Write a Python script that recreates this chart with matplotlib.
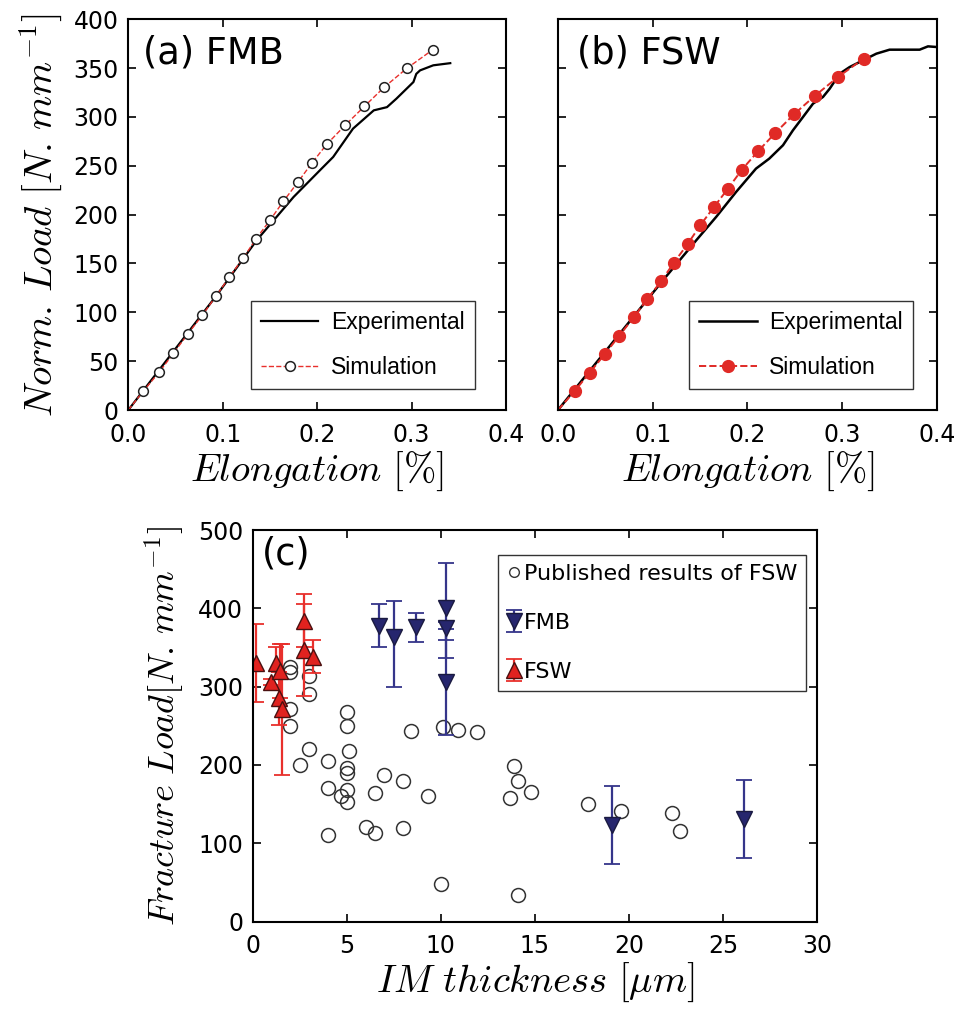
import numpy as np
import matplotlib
matplotlib.use("Agg")
import matplotlib.pyplot as plt
from matplotlib.lines import Line2D

plt.rcParams['mathtext.fontset'] = 'cm'
plt.rcParams['font.family'] = ['DejaVu Sans']

# (a) FMB
a_exp_x = [0.0, 0.0937, 0.136, 0.175, 0.203, 0.217, 0.238, 0.260, 0.274, 0.284, 0.302, 0.305, 0.309, 0.323, 0.341]
a_exp_y = [0.0, 117.6, 173.8, 218.0, 245.4, 259.0, 288.0, 306.7, 310.0, 318.7, 335.7, 344.0, 347.6, 352.8, 355.0]
a_sim_x = [0.0, 0.0159, 0.0325, 0.0477, 0.0629, 0.0784, 0.0929, 0.1071, 0.1219, 0.1353, 0.1501,
           0.1643, 0.1795, 0.1943, 0.2102, 0.2296, 0.2501, 0.2709, 0.2950, 0.3225]
a_sim_y = [0.0, 19.4, 38.5, 57.9, 77.7, 97.1, 116.6, 136.3, 155.8, 175.2, 194.3,
           213.7, 233.1, 252.6, 272.0, 291.4, 310.8, 330.3, 349.7, 368.8]

# (b) FSW
b_exp_x = [0.0, 0.1109, 0.146, 0.167, 0.188, 0.209, 0.223, 0.2375, 0.248, 0.2586, 0.2692, 0.2797,
           0.2868, 0.2973, 0.3078, 0.3219, 0.336, 0.350, 0.3817, 0.3905, 0.400]
b_exp_y = [0.0, 132.9, 173.8, 197.7, 223.2, 247.1, 257.3, 271.0, 286.3, 299.9, 313.6, 320.4,
           328.9, 344.2, 351.0, 357.9, 364.7, 368.8, 368.8, 372.2, 371.5]
b_sim_x = [0.0, 0.0176, 0.0335, 0.0493, 0.0644, 0.0799, 0.0940, 0.1091, 0.1225, 0.1372, 0.1503,
           0.1647, 0.1795, 0.1942, 0.2111, 0.2294, 0.2491, 0.2709, 0.2955, 0.3226]
b_sim_y = [0.0, 19.4, 38.3, 57.0, 75.7, 94.8, 113.2, 132.2, 151.0, 170.4, 189.2,
           207.9, 226.7, 246.1, 264.8, 283.6, 302.7, 321.4, 340.8, 359.6]

# (c) fracture load vs IM thickness
pub_x = [2.0, 2.0, 3.0, 3.0, 2.0, 2.0, 5.0, 5.0, 3.0, 2.5, 4.0, 5.1, 5.0, 5.0, 4.0, 5.0, 4.7, 5.0,
         7.0, 8.0, 6.5, 9.3, 4.0, 6.0, 6.5, 8.0, 8.4, 10.1, 10.9, 11.9, 10.0, 13.9, 14.1, 13.7,
         14.8, 14.1, 17.8, 19.6, 22.3, 22.7]
pub_y = [325, 319, 313, 291, 271, 250, 268, 250, 220, 200, 205, 218, 196, 190, 170, 168, 160, 153,
         187, 180, 164, 160, 110, 121, 113, 120, 243, 249, 245, 242, 48, 198, 180, 158,
         166, 34, 150, 141, 138, 116]

fmb_x = [6.7, 7.5, 8.7, 10.3, 10.3, 10.3, 19.1, 26.1]
fmb_y = [378, 363, 376, 400, 375, 306, 123, 131]
fmb_lo = [27, 63, 19, 63, 15, 68, 50, 50]
fmb_hi = [27, 47, 18, 58, 8, 68, 50, 50]

fsw_x = [0.15, 0.95, 1.25, 1.45, 1.4, 1.57, 2.7, 2.7, 3.2]
fsw_y = [330, 306, 330, 320, 285, 271, 384, 347, 338]
fsw_err = [50, 4, 20, 35, 34, 84, 34, 59, 21]

fig = plt.figure(figsize=(9.61, 10.10), dpi=100)
ax1 = fig.add_axes([0.1335, 0.594, 0.393, 0.387])
ax2 = fig.add_axes([0.5806, 0.594, 0.3944, 0.387])
ax3 = fig.add_axes([0.263, 0.0876, 0.5872, 0.3876])

tick_kw = dict(direction='in', top=True, right=True, length=6, width=1.2, labelsize=17, pad=7)
leg_font = {'family': 'Liberation Sans', 'size': 16.5}

ax1.plot(a_exp_x, a_exp_y, color='black', lw=1.6, label='Experimental')
ax1.plot(a_sim_x, a_sim_y, color='#e8302c', ls='--', lw=1.0, marker='o', ms=7,
         mfc='white', mec='#222222', mew=1.1, markevery=list(range(1, len(a_sim_x))), label='Simulation')
ax1.text(0.04, 0.96, '(a) FMB', transform=ax1.transAxes, fontsize=26.5, va='top', ha='left')
ax1.set_xlim(0, 0.4)
ax1.set_ylim(0, 400)
ax1.set_xticks([0.0, 0.1, 0.2, 0.3, 0.4])
ax1.set_yticks(range(0, 401, 50))
ax1.tick_params(**tick_kw)
ax1.tick_params(axis='x', pad=9)
ax1.set_xlabel(r'$Elongation\ [\%]$', fontsize=28, labelpad=2)
ax1.set_ylabel(r'$Norm.\,Load\ [N.\,mm^{-1}]$', fontsize=28, labelpad=6)
leg = ax1.legend(loc='lower right', bbox_to_anchor=(0.918, 0.053), borderaxespad=0,
                 prop=leg_font, handlelength=2.5, handletextpad=0.55, labelspacing=0.95,
                 fancybox=False, edgecolor='black', borderpad=0.45)
leg.get_frame().set_linewidth(1.0)

ax2.plot(b_exp_x, b_exp_y, color='black', lw=1.8, label='Experimental')
ax2.plot(b_sim_x, b_sim_y, color='#e02a26', ls='--', lw=1.4, marker='o', ms=8.5,
         mfc='#e02a26', mec='#e02a26', markevery=list(range(1, len(b_sim_x))), label='Simulation')
ax2.text(0.05, 0.96, '(b) FSW', transform=ax2.transAxes, fontsize=26.5, va='top', ha='left')
ax2.set_xlim(0, 0.4)
ax2.set_ylim(0, 400)
ax2.set_xticks([0.0, 0.1, 0.2, 0.3, 0.4])
ax2.set_yticks(range(0, 401, 50))
ax2.tick_params(**tick_kw)
ax2.tick_params(axis='x', pad=9)
ax2.tick_params(labelleft=False)
ax2.set_xlabel(r'$Elongation\ [\%]$', fontsize=28, labelpad=2)
leg = ax2.legend(loc='lower right', bbox_to_anchor=(0.937, 0.053), borderaxespad=0,
                 prop=leg_font, handlelength=2.5, handletextpad=0.55, labelspacing=0.95,
                 fancybox=False, edgecolor='black', borderpad=0.45)
leg.get_frame().set_linewidth(1.0)

ax3.plot(pub_x, pub_y, ls='none', marker='o', ms=10, mfc='none', mec='#333333', mew=1.1)
fmb = ax3.errorbar(fmb_x, fmb_y, yerr=[fmb_lo, fmb_hi], fmt='v', ms=11, color='#26266e',
                   mec='#1a1a40', ecolor='#35358a', elinewidth=1.6, capsize=5.5, capthick=1.3)
fsw = ax3.errorbar(fsw_x, fsw_y, yerr=fsw_err, fmt='^', ms=11, color='#e0221f',
                   mec='#4a1010', ecolor='#e8302c', elinewidth=1.6, capsize=5.5, capthick=1.3)
ax3.text(0.016, 0.985, '(c)', transform=ax3.transAxes, fontsize=26.5, va='top', ha='left')
ax3.set_xlim(0, 30)
ax3.set_ylim(0, 500)
ax3.set_xticks(range(0, 31, 5))
ax3.set_yticks(range(0, 501, 100))
ax3.tick_params(**tick_kw)
ax3.tick_params(axis='x', pad=9)
ax3.set_xlabel(r'$IM\ thickness\ [\mu m]$', fontsize=28, labelpad=2)
ax3.set_ylabel(r'$Fracture\ Load [N.\,mm^{-1}]$', fontsize=26, labelpad=8)
pub_handle = Line2D([], [], ls='none', marker='o', ms=7, mfc='none', mec='#333333', mew=1.0)
leg = ax3.legend([pub_handle, fmb, fsw], ['Published results of FSW', 'FMB', 'FSW'],
                 loc='upper right', bbox_to_anchor=(0.9805, 0.936), borderaxespad=0,
                 fontsize=16, handlelength=0.6, handletextpad=0.15, labelspacing=1.3,
                 fancybox=False, edgecolor='black', borderpad=0.4, numpoints=1)
leg.get_frame().set_linewidth(1.0)

for ax in (ax1, ax2, ax3):
    for s in ax.spines.values():
        s.set_linewidth(1.5)

fig.savefig('out.png', dpi=100)
